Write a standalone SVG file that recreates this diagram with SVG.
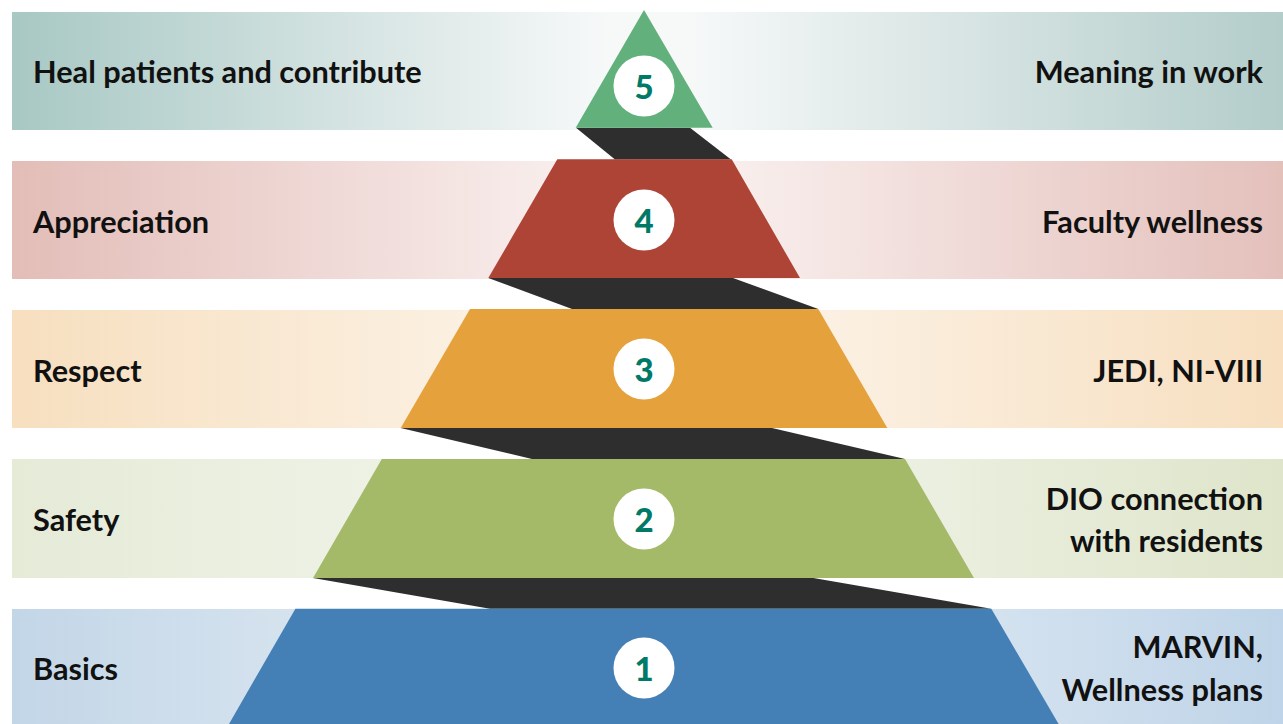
<svg xmlns="http://www.w3.org/2000/svg" width="1283" height="724" viewBox="0 0 1283 724">
<defs>
<linearGradient id="g5"><stop offset="0" stop-color="#a8c8c4"/><stop offset="0.47" stop-color="#f7f9f9"/><stop offset="0.53" stop-color="#f7f9f9"/><stop offset="1" stop-color="#b3cdca"/></linearGradient>
<linearGradient id="g4"><stop offset="0" stop-color="#e3bdb8"/><stop offset="0.47" stop-color="#faf2f1"/><stop offset="0.53" stop-color="#faf2f1"/><stop offset="1" stop-color="#e4c0bb"/></linearGradient>
<linearGradient id="g3"><stop offset="0" stop-color="#f7dfbf"/><stop offset="0.47" stop-color="#fcf5ec"/><stop offset="0.53" stop-color="#fcf5ec"/><stop offset="1" stop-color="#f7dfc0"/></linearGradient>
<linearGradient id="g2"><stop offset="0" stop-color="#e5ebd7"/><stop offset="0.47" stop-color="#f3f6ee"/><stop offset="0.53" stop-color="#f3f6ee"/><stop offset="1" stop-color="#dee5ca"/></linearGradient>
<linearGradient id="g1"><stop offset="0" stop-color="#c3d6e7"/><stop offset="0.47" stop-color="#eaf1f7"/><stop offset="0.53" stop-color="#eaf1f7"/><stop offset="1" stop-color="#bfd4e8"/></linearGradient>
</defs>
<style>
.lbl{font-family:Lato,"Liberation Sans",sans-serif;font-weight:bold;font-size:30.7px;fill:#111}
.r{text-anchor:end}
.num{font-family:Lato,"Liberation Sans",sans-serif;font-weight:900;font-size:33px;fill:#007a66;text-anchor:middle}
.shadow{fill:#2e2e2e}
.circ{fill:#ffffff}
</style>
<g id="bands">
<rect x="12" y="12" width="1271" height="118" fill="url(#g5)"/>
<rect x="12" y="161" width="1271" height="118" fill="url(#g4)"/>
<rect x="12" y="310" width="1271" height="118" fill="url(#g3)"/>
<rect x="12" y="459" width="1271" height="119" fill="url(#g2)"/>
<rect x="12" y="609" width="1271" height="115" fill="url(#g1)"/>
</g>
<g id="connectors">
<polygon class="shadow" points="576,127.7 690,127.7 731,159.5 615,159.5"/>
<polygon class="shadow" points="488.3,278 733,278 818.3,309 572,309"/>
<polygon class="shadow" points="400.7,428 772,428 905,459 532,459"/>
<polygon class="shadow" points="313,578 813.4,578 991.3,608.7 490,608.7"/>
</g>
<g id="level5">
<polygon points="644,10 712.7,127.7 575.7,127.7" fill="#62b07b"/>
<circle class="circ" cx="644" cy="86" r="30.5"/>
<text class="num" x="644" y="98.5">5</text>
<text class="lbl" x="33" y="83">Heal patients and contribute</text>
<text class="lbl r" x="1263" y="83">Meaning in work</text>
</g>
<g id="level4">
<polygon points="557.3,159.3 731.7,159.3 800,278 488.3,278" fill="#ad4435"/>
<circle class="circ" cx="644" cy="220" r="30.5"/>
<text class="num" x="644" y="232.5">4</text>
<text class="lbl" x="33" y="232.5">Appreciation</text>
<text class="lbl r" x="1263" y="232.5">Faculty wellness</text>
</g>
<g id="level3">
<polygon points="470,309 818.3,309 887.3,428 400.7,428" fill="#e5a13c"/>
<circle class="circ" cx="644" cy="369" r="30.5"/>
<text class="num" x="644" y="382">3</text>
<text class="lbl" x="33" y="382">Respect</text>
<text class="lbl r" x="1263" y="382">JEDI, NI-VIII</text>
</g>
<g id="level2">
<polygon points="381.8,459 905,459 974,578 313,578" fill="#a4ba68"/>
<circle class="circ" cx="644" cy="519" r="30.5"/>
<text class="num" x="644" y="531.5">2</text>
<text class="lbl" x="33" y="531">Safety</text>
<text class="lbl r" x="1263" y="510">DIO connection</text>
<text class="lbl r" x="1263" y="552">with residents</text>
</g>
<g id="level1">
<polygon points="295.4,608.7 991.3,608.7 1058.6,724 229,724" fill="#447fb5"/>
<circle class="circ" cx="644" cy="668" r="30.5"/>
<text class="num" x="644" y="680.5">1</text>
<text class="lbl" x="33" y="680">Basics</text>
<text class="lbl r" x="1263" y="658">MARVIN,</text>
<text class="lbl r" x="1263" y="701">Wellness plans</text>
</g>
</svg>
